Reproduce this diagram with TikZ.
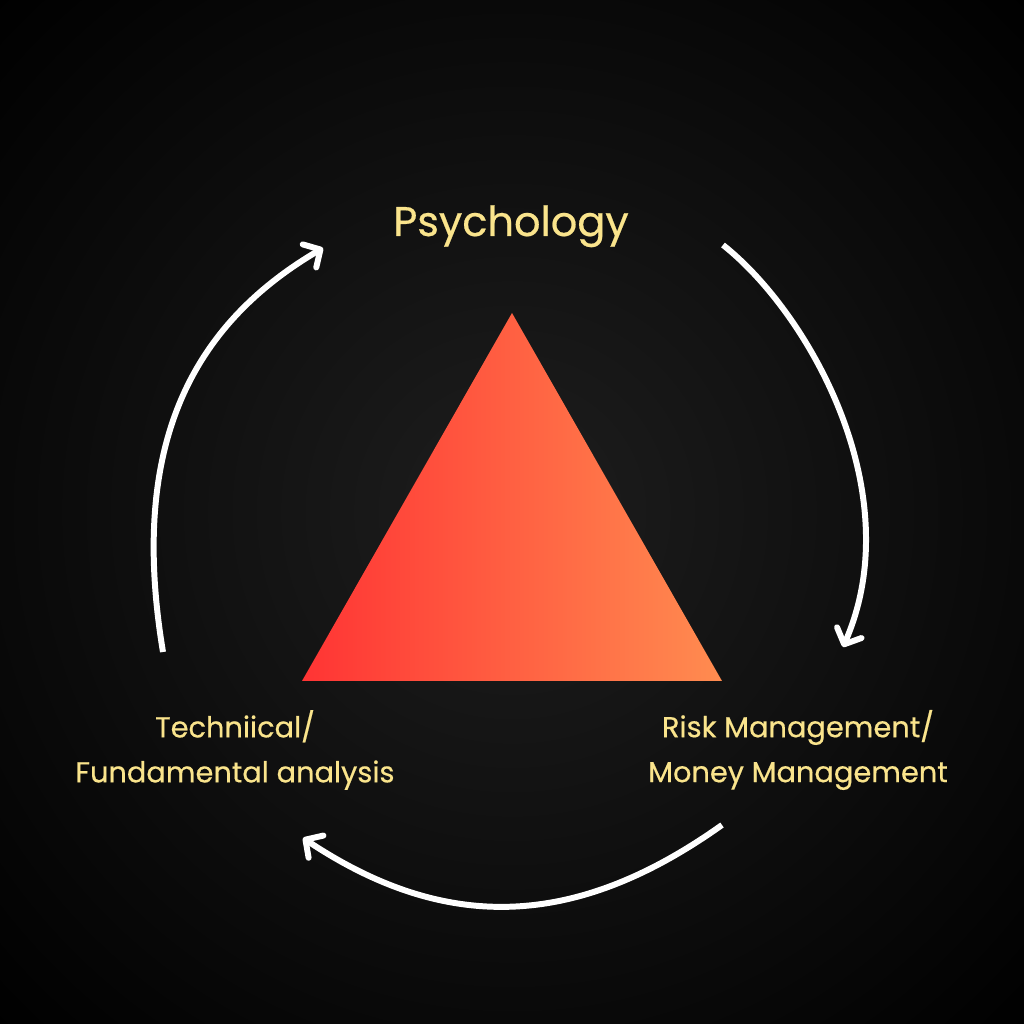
\documentclass[tikz,border=0pt]{standalone}
\usepackage{fontspec}
\setmainfont{Poppins}[FakeBold=0.5]
\usetikzlibrary{arrows.meta}

\definecolor{bgcenter}{RGB}{30,30,30}
\definecolor{labelyellow}{RGB}{250,228,140}
\definecolor{trired}{RGB}{255,52,52}
\definecolor{trimid}{RGB}{255,98,66}
\definecolor{triorange}{RGB}{255,140,80}

\tikzset{
  label text/.style={text=labelyellow, font=\fontsize{8.2}{12.8}\selectfont, align=center},
  cycle arrow/.style={white, line width=1.7pt, -{Straight Barb[length=3.6pt,width=7.6pt,round]}}
}

\begin{document}
\begin{tikzpicture}
  \useasboundingbox (0,0) rectangle (10.24,10.24);
  % background glow
  \fill[black] (0,0) rectangle (10.24,10.24);
  \begin{scope}
    \clip (0,0) rectangle (10.24,10.24);
    \shade[inner color=bgcenter, outer color=black] (5.12,5.12) circle (7.3);
  \end{scope}

  % triangle
  \shade[left color=trired, middle color=trimid, right color=triorange]
    (3.02,3.43) -- (5.12,7.11) -- (7.22,3.43) -- cycle;

  % labels
  \node[text=labelyellow, font=\fontsize{11.8}{14}\selectfont, anchor=base] (psych) at (5.11,7.88) {Psychology};
  \node[label text] (tech) at (2.35,2.74) {Techniical/\\Fundamental analysis};
  \node[label text] (risk) at (7.98,2.74) {Risk Management/\\Money Management};

  % arrow ends
  \coordinate (techOut) at (1.63,3.72);
  \coordinate (psychIn) at (3.23,7.76);
  \coordinate (psychOut) at (7.23,7.79);
  \coordinate (riskIn) at (8.43,3.77);
  \coordinate (riskOut) at (7.22,1.99);
  \coordinate (techIn) at (3.03,1.86);

  \draw[cycle arrow] (techOut) .. controls (1.30,5.70) and (1.85,6.95) .. (psychIn);
  \draw[cycle arrow] (psychOut) .. controls (8.10,7.10) and (9.10,5.30) .. (riskIn);
  \draw[cycle arrow] (riskOut) .. controls (5.80,0.98) and (4.50,0.88) .. (techIn);
\end{tikzpicture}
\end{document}
